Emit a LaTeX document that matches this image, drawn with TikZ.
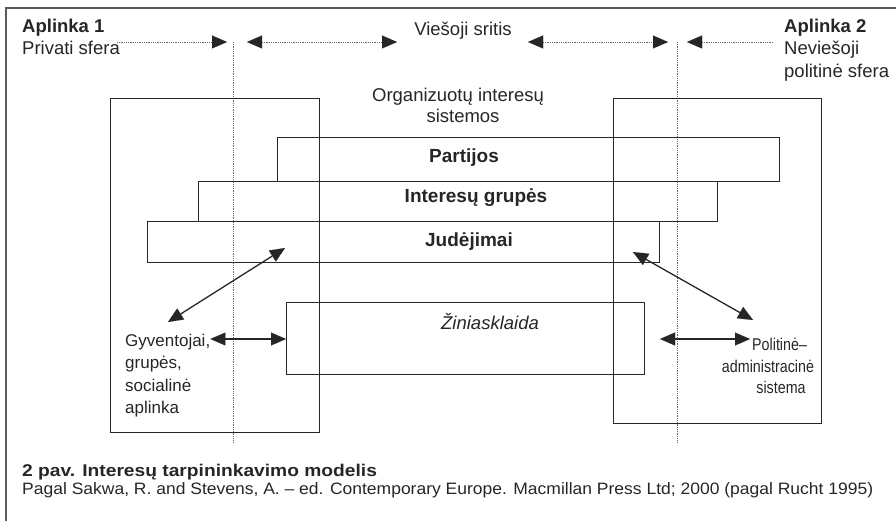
\documentclass[tikz,border=0pt]{standalone}
\usepackage{fontspec}
\usepackage{graphicx}
\setmainfont{Liberation Sans}
\usetikzlibrary{arrows.meta}
\definecolor{ink}{HTML}{262626}
\definecolor{framec}{HTML}{5A5A5A}
\definecolor{dotc}{HTML}{6A6A6A}
\begin{document}
\begin{tikzpicture}[x=1pt,y=-1pt,
  box/.style={draw=ink, line width=1.4pt, inner sep=0pt, anchor=north west},
  guide/.style={draw=dotc, line width=0.8pt, dash pattern=on 0.9pt off 0.9pt},
  headtip/.tip={Triangle[length=15pt,width=13pt,color=ink,fill=ink,line width=0.01pt]},
  tri/.style={-headtip},
  bitri/.style={headtip-headtip},
  conn/.style={draw=ink, line width=1.3pt},
  lbl/.style={inner sep=0pt, text=ink, font=\fontsize{18.5}{22}\selectfont},
  blbl/.style={inner sep=0pt, text=ink, font=\bfseries\fontsize{19}{22}\selectfont},
  slbl/.style={inner sep=0pt, text=ink, font=\fontsize{17}{22}\selectfont},
]
\useasboundingbox (0,0) rectangle (896,521);
% frame
\draw[draw=framec, line width=1.5pt] (6,521) -- (6,8) -- (896,8);

% vertical dotted guides
\coordinate (gl1) at (233,42);
\coordinate (gl2) at (233,442);
\coordinate (gr1) at (677,42);
\coordinate (gr2) at (677,442);
\draw[guide] (gl1) -- (gl2);
\draw[guide] (gr1) -- (gr2);

% header texts
\node[lbl, anchor=base west, font=\bfseries\fontsize{18.5}{22}\selectfont] (ap1) at (22,33) {Aplinka 1};
\node[lbl, anchor=base west] (priv) at (22,55) {Privati sfera};
\node[lbl, anchor=base] (vies) at (463,36) {Viešoji sritis};
\node[lbl, anchor=base west, font=\bfseries\fontsize{18.5}{22}\selectfont] (ap2) at (784,33) {Aplinka 2};
\node[lbl, anchor=base west] (nevies) at (784,55) {Neviešoji};
\node[lbl, anchor=base west] (polsf) at (784,78) {politinė sfera};

% top arrows
\coordinate (t1a) at (117,42);
\coordinate (t1b) at (227,42);
\coordinate (t2a) at (247,42);
\coordinate (t2b) at (397,42);
\coordinate (t3a) at (528,42);
\coordinate (t3b) at (668,42);
\coordinate (t4a) at (773,42);
\coordinate (t4b) at (687,42);
\draw[guide, tri] (t1a) -- (t1b);
\draw[guide, bitri] (t2a) -- (t2b);
\draw[guide, bitri] (t3a) -- (t3b);
\draw[guide, tri] (t4a) -- (t4b);

% environment boxes
\node[box, minimum width=209pt, minimum height=334pt] (envl) at (110,98) {};
\node[box, minimum width=208pt, minimum height=325pt] (envr) at (613,98) {};

% organised interest systems
\node[lbl, anchor=base] (org1) at (458,102) {Organizuotų interesų};
\node[lbl, anchor=base] (org2) at (463,123) {sistemos};

\node[box, minimum width=502pt, minimum height=44pt] (part) at (277,137) {};
\node[box, minimum width=519pt, minimum height=40pt] (intg) at (198,181) {};
\node[box, minimum width=512pt, minimum height=41pt] (jud) at (147,221) {};
\node[blbl, anchor=base] (partl) at (464,163) {Partijos};
\node[blbl, anchor=base] (intgl) at (476,203) {Interesų grupės};
\node[blbl, anchor=base] (judl) at (469,247) {Judėjimai};

% media
\node[box, minimum width=358pt, minimum height=72pt] (zin) at (286,302) {};
\node[lbl, anchor=base, font=\itshape\fontsize{18.5}{22}\selectfont] (zinl) at (490,329) {Žiniasklaida};

% population
\node[slbl, anchor=base west] (gyv1) at (125,346) {Gyventojai,};
\node[slbl, anchor=base west] (gyv2) at (125,368) {grupės,};
\node[slbl, anchor=base west] (gyv3) at (125,391) {socialinė};
\node[slbl, anchor=base west] (gyv4) at (125,413) {aplinka};

% political-administrative system
\node[slbl, anchor=base west] (pol1) at (752,350) {\scalebox{0.84}[1]{Politinė–}};
\node[slbl, anchor=base] (pol2) at (768,372) {\scalebox{0.84}[1]{administracinė}};
\node[slbl, anchor=base] (pol3) at (781,393) {\scalebox{0.84}[1]{sistema}};

% connectors
\coordinate (dl1) at (168,322);
\coordinate (dl2) at (285,248);
\coordinate (dr1) at (633,252);
\coordinate (dr2) at (753,320);
\draw[conn, bitri] (dl1) -- (dl2);
\draw[conn, bitri] (dr1) -- (dr2);
\draw[conn, bitri] (gyv1.east |- 0,339) -- (zin.west |- 0,339);
\coordinate (hr1) at (660,339);
\coordinate (hr2) at (750,339);
\draw[conn, bitri] (hr1) -- (hr2);

% caption
\node[lbl, anchor=base west, font=\bfseries\fontsize{17}{20}\selectfont] (cap1) at (22,476) {\scalebox{1.13}[1]{2 pav. Interesų tarpininkavimo modelis}};
\node[lbl, anchor=base west, font=\fontsize{16.5}{20}\selectfont] (cap2) at (22,494) {\scalebox{1.06}[1]{Pagal Sakwa, R. and Stevens, A. – ed. Contemporary Europe. Macmillan Press Ltd; 2000 (pagal Rucht 1995)}};
\end{tikzpicture}
\end{document}
